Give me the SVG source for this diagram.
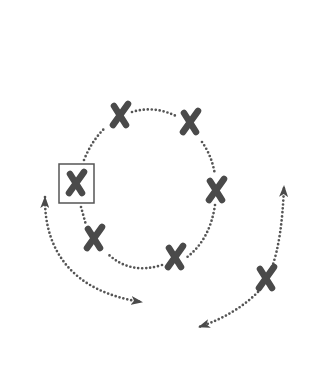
<svg xmlns="http://www.w3.org/2000/svg" width="328" height="370" viewBox="0 0 328 370">
<style>
.dot{fill:none;stroke:#555;stroke-width:2.7;stroke-linecap:round;stroke-dasharray:0 4}
.xm{fill:none;stroke:#4a4a4a;stroke-width:6.5;stroke-linecap:round}
.box{fill:none;stroke:#555;stroke-width:1.5}
</style>
<defs>
<marker id="ah" viewBox="0 0 12 9" refX="11" refY="4.5" markerWidth="12" markerHeight="9" markerUnits="userSpaceOnUse" orient="auto-start-reverse">
<path d="M0,0 L12,4.5 L0,9 L3,4.5 Z" fill="#4a4a4a"/>
</marker>
<g id="x">
<path class="xm" d="M-6,-9 L6,10"/>
<path class="xm" d="M8,-11 L-7,10"/>
</g>
</defs>
<rect width="328" height="370" fill="#ffffff"/>
<g id="connectors">
<path class="dot" d="M132,112 Q155,105 178,117"/>
<path class="dot" d="M202,142 Q212,156 215,175"/>
<path class="dot" d="M215,205 Q210,240 186,258"/>
<path class="dot" d="M162,265 Q130,275 108,254"/>
<path class="dot" d="M81,207 L86,225"/>
<path class="dot" d="M84,160 Q92,140 106,127"/>
<path class="dot" d="M45,197 C44,250 72,292 142,302" marker-start="url(#ah)" marker-end="url(#ah)"/>
<path class="dot" d="M272,267 Q282,240 284,186" marker-end="url(#ah)"/>
<path class="dot" d="M258,292 Q235,315 199,327" marker-end="url(#ah)"/>
</g>
<g id="n1"><use href="#x" x="120" y="115"/></g>
<g id="n2"><use href="#x" x="190" y="122"/></g>
<g id="n3"><use href="#x" x="216" y="190"/></g>
<g id="n4"><rect class="box" x="59" y="164" width="35" height="39"/><use href="#x" x="76" y="183"/></g>
<g id="n5"><use href="#x" x="94" y="238"/></g>
<g id="n6"><use href="#x" x="175" y="257"/></g>
<g id="n7"><use href="#x" x="266" y="278"/></g>
</svg>
